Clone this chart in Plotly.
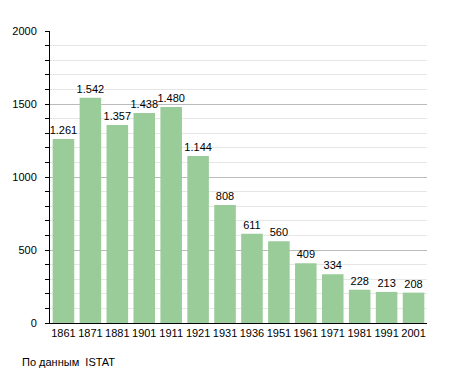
import plotly.graph_objects as go

years = ["1861", "1871", "1881", "1901", "1911", "1921", "1931", "1936",
         "1951", "1961", "1971", "1981", "1991", "2001"]
population = [1261, 1542, 1357, 1438, 1480, 1144, 808, 611, 560, 409, 334, 228, 213, 208]

labels = [f"{v:,}".replace(",", ".") for v in population]

fig = go.Figure(go.Bar(
    x=years, y=population, text=labels, textposition="outside",
    constraintext="none",
    textfont=dict(size=11, color="black", family="Liberation Sans, Arial"),
    marker=dict(color="#99cc99", line=dict(width=0)),
    cliponaxis=False,
))

fig.update_layout(
    width=455, height=373,
    margin=dict(l=42, r=36, t=23, b=58, autoexpand=False),
    paper_bgcolor="white", plot_bgcolor="white",
    bargap=0.2,
    showlegend=False,
    font=dict(family="Liberation Sans, Arial", size=11, color="black"),
    xaxis=dict(type="category", showline=True, linecolor="black", linewidth=1,
               ticks="", showgrid=False, tickfont=dict(size=11), tickangle=0,
               automargin=False),
    yaxis=dict(range=[0, 2000], dtick=500, showline=True, linecolor="black",
               linewidth=1, ticks="outside", ticklen=4, tickcolor="black",
               gridcolor="#bbbbbb", gridwidth=1, zeroline=False, automargin=False,
               tickfont=dict(size=11), ticklabelstandoff=6,
               minor=dict(dtick=100, showgrid=True, gridcolor="#e6e6e6",
                          ticks="outside", ticklen=4, tickcolor="black")),
)
fig.add_annotation(text="По данным  ISTAT", xref="paper", yref="paper",
                   x=-30/377, y=-39/292, xanchor="left", yanchor="middle",
                   showarrow=False, font=dict(size=11))

fig.write_html("out.html")
